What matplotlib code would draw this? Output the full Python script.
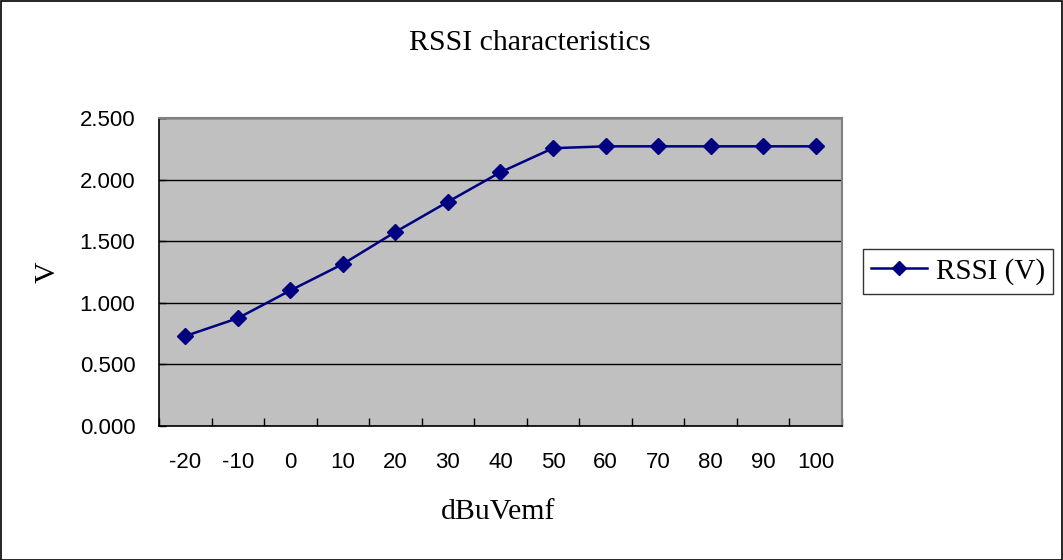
import matplotlib
matplotlib.use("Agg")
import matplotlib.pyplot as plt
from matplotlib.patches import Rectangle
import numpy as np

categories = ["-20", "-10", "0", "10", "20", "30", "40", "50", "60", "70", "80", "90", "100"]
rssi_v = [0.73, 0.875, 1.10, 1.315, 1.575, 1.82, 2.06, 2.255, 2.27, 2.27, 2.27, 2.27, 2.27]
y_ticks = [0.0, 0.5, 1.0, 1.5, 2.0, 2.5]
y_tick_labels = ["0.000", "0.500", "1.000", "1.500", "2.000", "2.500"]

W, H = 1063, 560
fig = plt.figure(figsize=(W / 100, H / 100), dpi=100)
fig.patch.set_facecolor("white")

# plot area in pixels
left, top, right, bottom = 159, 118, 842, 426
ax = fig.add_axes([left / W, 1 - bottom / H, (right - left) / W, (bottom - top) / H])
ax.set_facecolor("#C0C0C0")

x = np.arange(len(categories))
ax.plot(x, rssi_v, color="#000080", linewidth=1.8, marker="D", markersize=8,
        markerfacecolor="#000080", markeredgecolor="#000080", label="RSSI (V)", zorder=3)

ax.set_xlim(-0.5, len(categories) - 0.5)
ax.set_ylim(0, 2.5)

ax.set_yticks(y_ticks)
ax.set_yticklabels(y_tick_labels, fontfamily="Liberation Sans", fontsize=16)
ax.yaxis.grid(True, color="black", linewidth=1.0)
ax.set_axisbelow(True)

ax.set_xticks(x)
ax.set_xticklabels(categories, fontfamily="Liberation Sans", fontsize=16)
ax.set_xticks(np.arange(-0.5, len(categories), 1.0), minor=True)
ax.tick_params(axis="x", which="major", length=0, pad=19)
ax.tick_params(axis="x", which="minor", length=6, direction="in", color="black", width=1.0)
ax.tick_params(axis="y", which="major", length=5, direction="in", color="black", width=1.0, pad=17)

for s in ["left", "bottom"]:
    ax.spines[s].set_color("black")
    ax.spines[s].set_linewidth(1.2)
for s in ["top", "right"]:
    ax.spines[s].set_color("#808080")
    ax.spines[s].set_linewidth(1.5)

# Title and axis labels
fig.text(529.5 / W, 1 - 50 / H, "RSSI characteristics", ha="center", va="baseline",
         fontfamily="Liberation Serif", fontsize=21.5)
fig.text(48 / W, 1 - 272 / H, "V", ha="center", va="center", rotation=90,
         fontfamily="Liberation Serif", fontsize=21.5)
fig.text(498.5 / W, 1 - 519 / H, "dBuVemf", ha="center", va="baseline",
         fontfamily="Liberation Serif", fontsize=21.5)

# Legend
leg = fig.legend(loc="center", bbox_to_anchor=(958 / W, 1 - 271.5 / H),
                 prop={"family": "Liberation Serif", "size": 21},
                 frameon=True, fancybox=False, edgecolor="black", handlelength=1.9,
                 handletextpad=0.3, borderpad=0.3, borderaxespad=0, markerscale=0.9)
leg.get_frame().set_linewidth(1.0)

# Figure border
fig.add_artist(Rectangle((0.5 / W, 0.5 / H), (W - 1.5) / W, (H - 1.5) / H,
                         transform=fig.transFigure, fill=False, edgecolor="black",
                         linewidth=1.2))

fig.savefig("out.png", dpi=100, facecolor="white")
